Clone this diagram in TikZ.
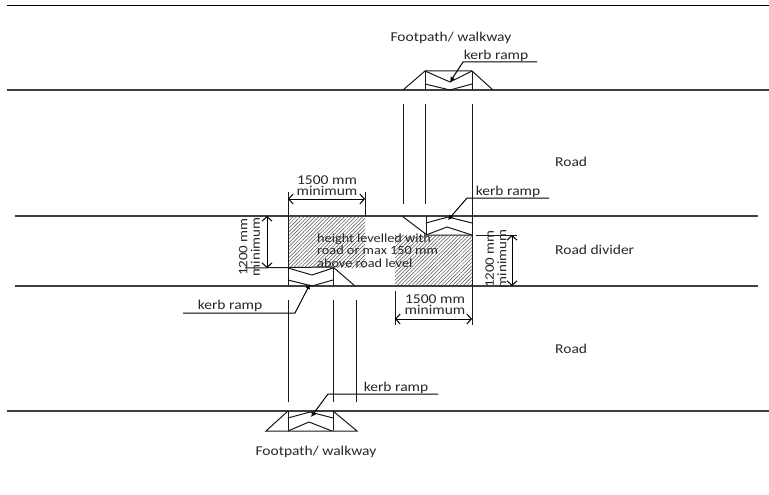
\documentclass[tikz,border=0pt]{standalone}
\usepackage{fontspec}
\setmainfont[FakeStretch=1.15]{Carlito}
\usetikzlibrary{patterns.meta,arrows.meta}
\tikzset{
  ln/.style={draw=black!90,line width=1pt},
  rd/.style={draw=black!75,line width=1.5pt},
  lead/.style={draw=black,line width=1pt,-{Latex[length=5pt,width=5pt]}},
  dimarrow/.style={draw=black,line width=1pt,{Straight Barb[length=4.5pt,width=10pt]}-{Straight Barb[length=4.5pt,width=10pt]}},
  hatch/.style={pattern={Lines[angle=45,distance=2.6pt,line width=.5pt]},pattern color=black!70},
  lab/.style={inner sep=0pt,font=\fontsize{13.5}{13.5}\selectfont,text=black!85},
  dimlab/.style={inner sep=0pt,align=center,font=\fontsize{13.5}{10.7}\selectfont,text=black!85},
  rotlab/.style={inner sep=0pt,align=center,rotate=90,font=\fontsize{13}{12.5}\selectfont,text=black!85}
}
\begin{document}
\begin{tikzpicture}[x=1pt,y=-1pt]
\useasboundingbox (0,0) rectangle (769,495);
% hatch
\fill[hatch] (288,216) rectangle (365,267);
\fill[hatch] (395,235) rectangle (472,286);
% coordinates
\coordinate (tl) at (7,90); \coordinate (tr) at (769,90);
\coordinate (ml) at (15,216); \coordinate (mr) at (758,216);
\coordinate (nl) at (15,286); \coordinate (nr) at (758,286);
\coordinate (bl) at (7,411); \coordinate (br) at (769,411);
\coordinate (pl) at (7,5.5); \coordinate (pr) at (769,5.5);
\draw[draw=black,line width=1.2pt] (pl)--(pr);
\draw[rd] (tl)--(tr);
\draw[rd] (ml)--(mr);
\draw[rd] (nl)--(nr);
\draw[rd] (bl)--(br);
% top ramp
\draw[ln] (403,90)--(425,71)--(472,71)--(493,90);
\draw[ln] (425,71)--(425,90) (472,71)--(472,90);
\draw[ln] (425,71)--(450,82)--(472,71);
\draw[ln] (425,84)--(450,90)--(472,84);
% crossing 1
\draw[ln] (403,104)--(403,204) (425,104)--(425,204) (472,104)--(472,235);
% mid right ramp
\draw[ln] (402,216)--(427,235)--(472,235);
\draw[ln] (426,216)--(426,235);
\draw[ln] (426,223)--(448,217)--(472,223);
\draw[ln] (426,235)--(447,227)--(472,235);
\draw[ln] (472,235)--(472,286);
% mid left ramp
\draw[ln] (288,192)--(288,286);
\draw[ln] (365,192)--(365,216);
\draw[ln] (245,268)--(333,267)--(355,286);
\draw[ln] (333,267)--(333,286);
\draw[ln] (288,268)--(312,275)--(333,268);
\draw[ln] (288,280)--(312,286)--(333,280);
% crossing 2
\draw[ln] (288,300)--(288,402) (333,300)--(333,402) (356,300)--(356,402);
% bottom ramp
\draw[ln] (288,411)--(266,431)--(357,431)--(333,411);
\draw[ln] (288,411)--(288,431) (333,411)--(333,431);
\draw[ln] (288,418)--(310,412)--(333,418);
\draw[ln] (288,431)--(309,422)--(332,431);
% dims
\coordinate (d1a) at (288,199); \coordinate (d1b) at (365,199);
\draw[dimarrow] (d1a)--(d1b);
\coordinate (d2a) at (267,216); \coordinate (d2b) at (267,268);
\draw[dimarrow] (d2a)--(d2b);
\draw[ln] (476,235)--(517,235);
\coordinate (d3a) at (512,235); \coordinate (d3b) at (512,286);
\draw[dimarrow] (d3a)--(d3b);
\draw[ln] (395,291)--(395,325) (472,286)--(472,325);
\coordinate (d4a) at (395,319); \coordinate (d4b) at (472,319);
\draw[dimarrow] (d4a)--(d4b);
% leaders
\draw[lead] (537,62)--(463,62)--(450,82);
\draw[lead] (549,198)--(467,198)--(448,220);
\draw[lead] (183,313)--(295,313)--(310,284);
\draw[lead] (438,394)--(328,394)--(311,417);
% text
\node[lab] (t1) at (451,38) {Footpath/ walkway};
\node[lab] (t2) at (496,56) {kerb ramp};
\node[lab] (t3) at (508,192) {kerb ramp};
\node[lab] (t4) at (230,306) {kerb ramp};
\node[lab] (t5) at (396,388) {kerb ramp};
\node[lab] (t6) at (316,452) {Footpath/ walkway};
\node[lab,anchor=west] (t7) at (555,162) {Road};
\node[lab,anchor=west] (t8) at (555,250) {Road divider};
\node[lab,anchor=west] (t9) at (555,349) {Road};
\node[dimlab] (t10) at (327,185.5) {1500 mm\\minimum};
\node[dimlab] (t11) at (435,304.5) {1500 mm\\minimum};
\node[rotlab] (t12) at (249.5,247) {1200 mm\\minimum};
\node[rotlab] (t13) at (496,259) {1200 mm\\minimum};
\node[inner sep=0pt,align=left,anchor=west,font=\fontsize{12.4}{12.7}\selectfont,text=black!85] (t14) at (317,250.5) {height levelled with\\road or max 150 mm\\above road level};
\end{tikzpicture}
\end{document}
